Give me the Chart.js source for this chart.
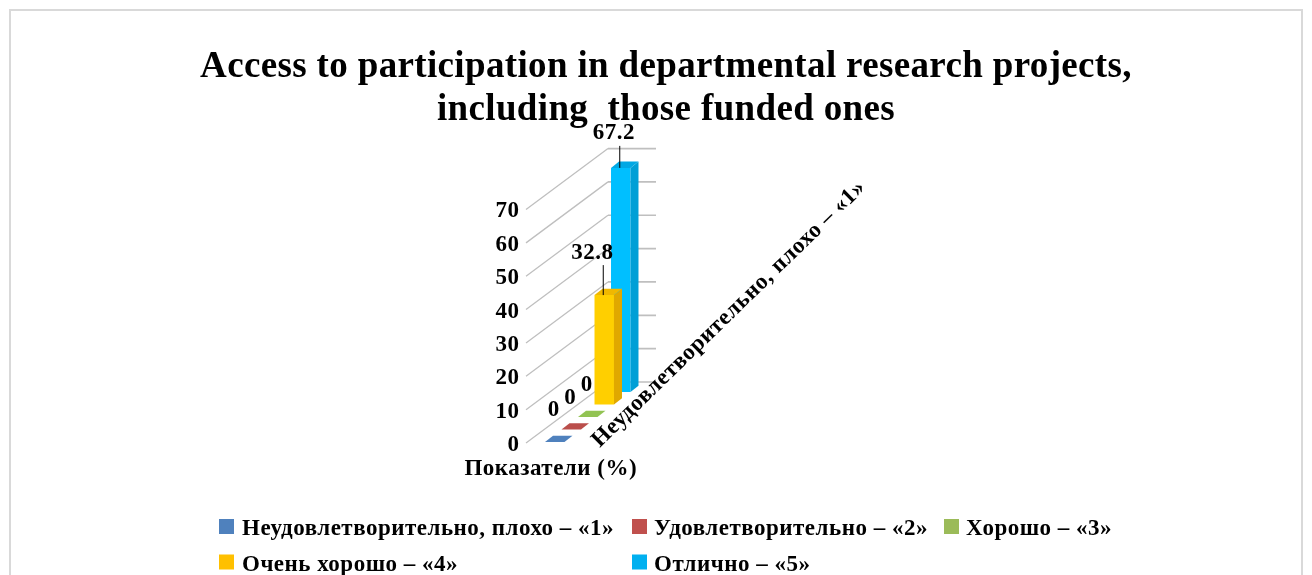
<!DOCTYPE html>
<html>
<head>
<meta charset="utf-8">
<style>
  html, body { margin: 0; padding: 0; background: #fff; overflow: hidden; }
  canvas { display: block; }
</style>
<script src="https://cdn.jsdelivr.net/npm/chart.js@4"></script>
</head>
<body>
<canvas id="chart" width="1312" height="575"></canvas>
<script>
// Chart data
const CATEGORY = ['Показатели (%)'];
const SERIES_NAMES = [
    'Неудовлетворительно, плохо – «1»',
    'Удовлетворительно – «2»',
    'Хорошо – «3»',
    'Очень хорошо – «4»',
    'Отлично – «5»'
];
const SERIES_VALUES = [0, 0, 0, 32.8, 67.2];
const TITLE_LINES = [
    'Access to participation in departmental research projects,',
    'including  those funded ones'
];

// Colours
const LEGEND_COLORS = ['#4F81BD', '#C0504D', '#9BBB59', '#FFC000', '#00B0F0'];
const FACE_COLORS = ['#4F81BD', '#C0504D', '#9BBB59', '#FFCF00', '#00BFFF'];
const SIDE_COLORS = ['#3F6797', '#9A403E', '#7C9647', '#E0A800', '#009FD6'];
const TOP_COLORS = ['#4F81BD', '#BA4E4B', '#92C353', '#F0B800', '#00A8E4'];
const GRID_COLOR = '#BFBFBF';
const FONT_FAMILY = '"Liberation Serif", "Times New Roman", serif';

// 3D look
const SERIES_STEP_Y = 12.5;
const FIRST_LIFT = 1;
const DEPTH_X = 8;
const DEPTH_Y = 6.3;
const WALL_X = 82;
const WALL_Y = 61;
const WALL_LEFT_GAP = 20.5;
const BACK_WIDTH = 48;

function seriesLift(index) {
    return FIRST_LIFT + SERIES_STEP_Y * index;
}

// Slanted side wall and back wall lines, one for each y tick
const wallGrid = {
    id: 'wallGrid',
    beforeDatasetsDraw(chart) {
        const ctx = chart.ctx;
        const y = chart.scales.y;
        const left = chart.chartArea.left - WALL_LEFT_GAP;
        ctx.save();
        ctx.strokeStyle = GRID_COLOR;
        y.ticks.forEach(t => {
            const py = y.getPixelForValue(t.value);
            ctx.lineWidth = 1.3;
            ctx.beginPath();
            ctx.moveTo(left, py);
            ctx.lineTo(left + WALL_X, py - WALL_Y);
            ctx.stroke();
            ctx.lineWidth = 1.7;
            ctx.beginPath();
            ctx.moveTo(left + WALL_X, py - WALL_Y);
            ctx.lineTo(left + WALL_X + BACK_WIDTH, py - WALL_Y);
            ctx.stroke();
        });
        ctx.restore();
    }
};

// Moves each series back in depth and adds the side and top faces
const depthBars = {
    id: 'depthBars',
    beforeDatasetDraw(chart, args) {
        chart.ctx.save();
        chart.ctx.translate(0, -seriesLift(args.index));
    },
    afterDatasetDraw(chart, args) {
        const ctx = chart.ctx;
        args.meta.data.forEach(bar => {
            const p = bar.getProps(['x', 'y', 'base', 'width'], true);
            const l = p.x - p.width / 2;
            const r = p.x + p.width / 2;
            if (p.base - p.y > 0.5) {
                ctx.fillStyle = SIDE_COLORS[args.index];
                ctx.beginPath();
                ctx.moveTo(r, p.y);
                ctx.lineTo(r + DEPTH_X, p.y - DEPTH_Y);
                ctx.lineTo(r + DEPTH_X, p.base - DEPTH_Y);
                ctx.lineTo(r, p.base);
                ctx.closePath();
                ctx.fill();
            }
            ctx.fillStyle = TOP_COLORS[args.index];
            ctx.beginPath();
            ctx.moveTo(l, p.y);
            ctx.lineTo(l + DEPTH_X, p.y - DEPTH_Y);
            ctx.lineTo(r + DEPTH_X, p.y - DEPTH_Y);
            ctx.lineTo(r, p.y);
            ctx.closePath();
            ctx.fill();
        });
        ctx.restore();
    }
};

// Value labels, leader lines, series axis label, legend and outer frame
const LEADER_LENGTH = [0, 0, 0, 30, 22];
const LABEL_SHIFT_X = [-1, -1, -1, -12, -7];

const extras = {
    id: 'extras',
    beforeDraw(chart) {
        const ctx = chart.ctx;
        ctx.letterSpacing = '0.5px';
        // the title is spaced a little tighter than the other texts
        const title = chart.titleBlock;
        if (!title.spaced) {
            const drawTitle = title.draw.bind(title);
            title.draw = function() {
                ctx.save();
                ctx.letterSpacing = '0.35px';
                drawTitle();
                ctx.restore();
            };
            title.spaced = true;
        }
        ctx.save();
        ctx.strokeStyle = '#D9D9D9';
        ctx.lineWidth = 2;
        ctx.strokeRect(10, 10, 1292, 600);
        ctx.restore();
    },
    afterDraw(chart) {
        const ctx = chart.ctx;
        ctx.save();
        ctx.textBaseline = 'alphabetic';
        ctx.fillStyle = '#000';

        // value labels
        ctx.font = 'bold 23px ' + FONT_FAMILY;
        ctx.textAlign = 'center';
        SERIES_VALUES.forEach((v, i) => {
            const bar = chart.getDatasetMeta(i).data[0];
            const top = bar.y - seriesLift(i);
            const len = LEADER_LENGTH[i];
            if (len > 0) {
                ctx.strokeStyle = '#000';
                ctx.lineWidth = 1;
                ctx.beginPath();
                ctx.moveTo(bar.x - 1, top);
                ctx.lineTo(bar.x - 1, top - len);
                ctx.stroke();
            }
            const gap = len > 0 ? len + 6.5 : 26;
            ctx.fillText(String(v), bar.x + LABEL_SHIFT_X[i], top - gap);
        });

        // series axis, only the first name fits
        const first = chart.getDatasetMeta(0).data[0];
        ctx.textAlign = 'left';
        ctx.save();
        ctx.translate(first.x + 45, chart.scales.y.bottom + 5);
        ctx.rotate(-44.2 * Math.PI / 180);
        ctx.fillText(SERIES_NAMES[0], 0, 0);
        ctx.restore();

        // legend, in two aligned rows
        const boxColumns = [219, 632, 944];
        const textColumns = [242, 654, 966];
        const rows = [535, 570.5];
        SERIES_NAMES.forEach((name, i) => {
            const y = rows[Math.floor(i / 3)];
            ctx.fillStyle = LEGEND_COLORS[i];
            ctx.fillRect(boxColumns[i % 3], y - 16, 15, 15);
            ctx.fillStyle = '#000';
            ctx.fillText(name, textColumns[i % 3], y);
        });
        ctx.restore();
    }
};

new Chart(document.getElementById('chart'), {
    type: 'bar',
    data: {
        labels: CATEGORY,
        datasets: SERIES_NAMES.map((name, i) => ({
            label: name,
            data: [SERIES_VALUES[i]],
            backgroundColor: FACE_COLORS[i],
            clip: false
        }))
    },
    options: {
        responsive: false,
        animation: false,
        barPercentage: 1.18,
        categoryPercentage: 1,
        layout: { padding: { left: 20, right: 0, top: 0, bottom: 0 } },
        plugins: {
            legend: { display: false },
            tooltip: { enabled: false },
            title: {
                display: true,
                text: TITLE_LINES,
                color: '#000',
                font: { family: FONT_FAMILY, size: 37, weight: 'bold', lineHeight: 1.16 },
                padding: { top: 46, bottom: 77.7 }
            }
        },
        scales: {
            x: {
                grid: { display: false },
                border: { display: false },
                afterFit(scale) { scale.height = 132; },
                ticks: {
                    color: '#000',
                    font: { family: FONT_FAMILY, size: 23, weight: 'bold' },
                    padding: 4,
                    labelOffset: -37,
                    autoSkip: false,
                    maxRotation: 0,
                    minRotation: 0
                }
            },
            y: {
                min: 0,
                max: 70,
                grid: { display: false, drawTicks: false },
                border: { display: false },
                afterFit(scale) { scale.width = 526.5; },
                ticks: {
                    stepSize: 10,
                    color: '#000',
                    font: { family: FONT_FAMILY, size: 23, weight: 'bold' },
                    padding: 27,
                    labelOffset: 2
                }
            },
            // keeps the empty space right of the plot, the title stays centred on the page
            spacer: {
                axis: 'y',
                position: 'right',
                grid: { display: false, drawTicks: false },
                border: { display: false },
                ticks: { display: false },
                afterFit(scale) { scale.width = 683; }
            }
        }
    },
    plugins: [wallGrid, depthBars, extras]
});
</script>
</body>
</html>
